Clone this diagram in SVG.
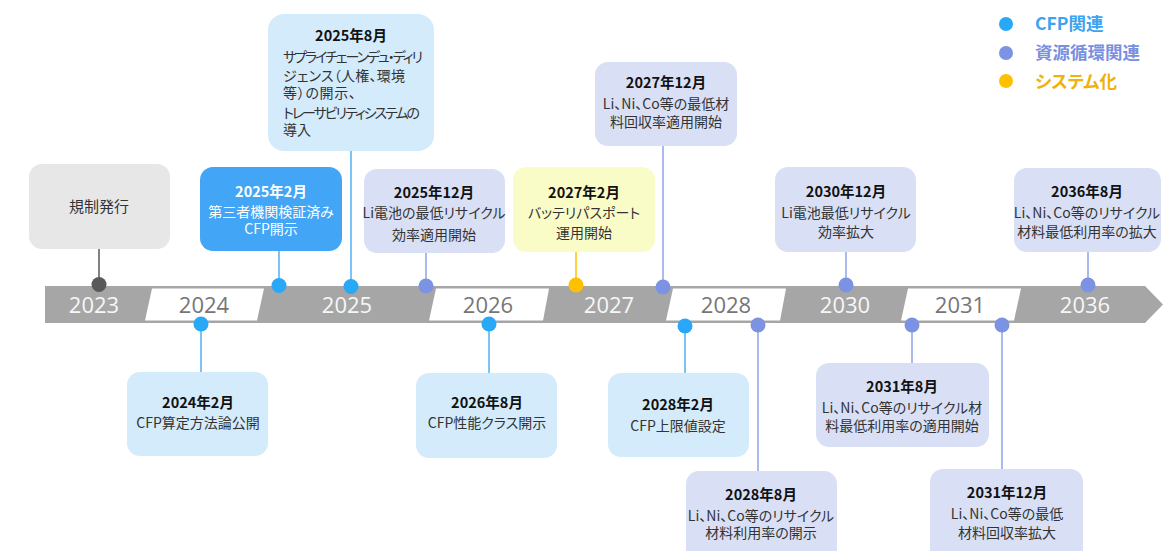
<svg xmlns="http://www.w3.org/2000/svg" width="1173" height="551" viewBox="0 0 1173 551">
<style>
text{font-family:"Noto Sans CJK JP","Noto Sans",sans-serif;font-feature-settings:"palt";}
.t{font-size:14.5px;font-weight:bold;fill:#111;text-anchor:middle;}
.b{font-size:14px;fill:#333;text-anchor:middle;}
.bl{font-size:14px;fill:#333;}
.yr{font-family:"Open Sans","Noto Sans",sans-serif;font-size:22px;text-anchor:middle;}
.yw{fill:#f7f7f7;}
.yg{fill:#767676;}
.cfp{fill:#d4ebfb;}
.res{fill:#d9e0f6;}
.ln{stroke-width:1.5;fill:none;}
.lb{stroke:#4fb0f5;}
.lp{stroke:#8fa3e6;}
.dc{fill:#29a8f7;}
.dp{fill:#7b93e2;}
.dy{fill:#ffc000;}
.lg{font-size:17.5px;font-weight:bold;}
</style>
<!-- timeline bar -->
<g id="timeline">
<polygon points="45,286 1145,286 1163,304.5 1145,323 45,323" fill="#a6a6a6"/>
<polygon points="152,288.5 264,288.5 257,320.5 145,320.5" fill="#fff"/>
<polygon points="436,288.5 549,288.5 543,320.5 429,320.5" fill="#fff"/>
<polygon points="673,288.5 786,288.5 780,320.5 666,320.5" fill="#fff"/>
<polygon points="908,288.5 1021,288.5 1014,320.5 901,320.5" fill="#fff"/>
<text class="yr yw" x="94" y="313">2023</text>
<text class="yr yg" x="204" y="313">2024</text>
<text class="yr yw" x="347" y="313">2025</text>
<text class="yr yg" x="488" y="313">2026</text>
<text class="yr yw" x="609" y="313">2027</text>
<text class="yr yg" x="726" y="313">2028</text>
<text class="yr yw" x="845" y="313">2030</text>
<text class="yr yg" x="960" y="313">2031</text>
<text class="yr yw" x="1085" y="313">2036</text>
</g>
<!-- connectors -->
<g id="connectors">
<line class="ln" stroke="#595959" x1="99" y1="249" x2="99" y2="285"/>
<line class="ln lb" x1="279" y1="250" x2="279" y2="286"/>
<line class="ln lb" x1="351" y1="151" x2="351" y2="287"/>
<line class="ln lp" x1="426" y1="253" x2="426" y2="286"/>
<line class="ln" stroke="#ffc000" x1="576" y1="252" x2="576" y2="285"/>
<line class="ln lp" x1="663" y1="146" x2="663" y2="287"/>
<line class="ln lp" x1="846" y1="252" x2="846" y2="285"/>
<line class="ln lp" x1="1088" y1="252" x2="1088" y2="285"/>
<line class="ln lb" x1="201" y1="324" x2="201" y2="372"/>
<line class="ln lb" x1="489" y1="324" x2="489" y2="373"/>
<line class="ln lb" x1="685" y1="326" x2="685" y2="373"/>
<line class="ln lp" x1="758" y1="325" x2="758" y2="471"/>
<line class="ln lp" x1="912" y1="325" x2="912" y2="363"/>
<line class="ln lp" x1="1002" y1="325" x2="1002" y2="469"/>
<circle cx="99" cy="284.5" r="7.5" fill="#595959"/>
<circle class="dc" cx="279" cy="285.5" r="7.5"/>
<circle class="dc" cx="351" cy="286.5" r="7.5"/>
<circle class="dp" cx="426" cy="286" r="7.5"/>
<circle class="dy" cx="576" cy="285" r="7.5"/>
<circle class="dp" cx="663" cy="287" r="7.5"/>
<circle class="dp" cx="846" cy="285" r="7.5"/>
<circle class="dp" cx="1088" cy="285" r="7.5"/>
<circle class="dc" cx="201" cy="324" r="7.5"/>
<circle class="dc" cx="489" cy="324" r="7.5"/>
<circle class="dc" cx="685" cy="326" r="7.5"/>
<circle class="dp" cx="758" cy="325" r="7.5"/>
<circle class="dp" cx="912" cy="325" r="7.5"/>
<circle class="dp" cx="1002" cy="325" r="7.5"/>
</g>
<!-- nodes -->
<g id="n-2023">
<rect x="29" y="164" width="141" height="85" rx="13" fill="#e7e7e7"/>
<text class="b" x="99" y="212" style="font-size:15px">規制発行</text>
</g>
<g id="n-2025-02">
<rect x="200" y="167" width="142" height="84" rx="13" fill="#42a5f5"/>
<text class="t" x="271" y="197" style="fill:#fff">2025年2月</text>
<text class="b" x="271" y="217" style="fill:#fff">第三者機関検証済み</text>
<text class="b" x="271" y="234" style="fill:#fff">CFP開示</text>
</g>
<g id="n-2025-08">
<rect x="268" y="14" width="166" height="137" rx="16" class="cfp"/>
<text class="t" x="351" y="41">2025年8月</text>
<text class="bl" x="283" y="62" textLength="140">サプライチェーンデュ・ディリ</text>
<text class="bl" x="283" y="81" textLength="122">ジェンス（人権、環境</text>
<text class="bl" x="283" y="98" textLength="73">等）の開示、</text>
<text class="bl" x="283" y="118" textLength="137">トレーサビリティシステムの</text>
<text class="bl" x="283" y="135">導入</text>
</g>
<g id="n-2025-12">
<rect x="364" y="169" width="141" height="84" rx="13" class="res"/>
<text class="t" x="434" y="198">2025年12月</text>
<text class="b" x="434" y="218">Li電池の最低リサイクル</text>
<text class="b" x="434" y="240">効率適用開始</text>
</g>
<g id="n-2027-02">
<rect x="513" y="167" width="142" height="85" rx="13" fill="#fafcc8"/>
<text class="t" x="584" y="198">2027年2月</text>
<text class="b" x="584" y="218">バッテリパスポート</text>
<text class="b" x="584" y="238">運用開始</text>
</g>
<g id="n-2027-12">
<rect x="595" y="62" width="142" height="84" rx="13" class="res"/>
<text class="t" x="666" y="88">2027年12月</text>
<text class="b" x="666" y="109">Li、Ni、Co等の最低材</text>
<text class="b" x="666" y="127">料回収率適用開始</text>
</g>
<g id="n-2030-12">
<rect x="775" y="167" width="141" height="85" rx="13" class="res"/>
<text class="t" x="846" y="197">2030年12月</text>
<text class="b" x="846" y="218">Li電池最低リサイクル</text>
<text class="b" x="846" y="237">効率拡大</text>
</g>
<g id="n-2036-08">
<rect x="1014" y="168" width="147" height="84" rx="13" class="res"/>
<text class="t" x="1087" y="197">2036年8月</text>
<text class="b" x="1087" y="218">Li、Ni、Co等のリサイクル</text>
<text class="b" x="1087" y="237">材料最低利用率の拡大</text>
</g>
<g id="n-2024-02">
<rect x="127" y="372" width="141" height="84" rx="13" class="cfp"/>
<text class="t" x="198" y="408">2024年2月</text>
<text class="b" x="198" y="428">CFP算定方法論公開</text>
</g>
<g id="n-2026-08">
<rect x="416" y="373" width="141" height="85" rx="13" class="cfp"/>
<text class="t" x="487" y="408">2026年8月</text>
<text class="b" x="487" y="428">CFP性能クラス開示</text>
</g>
<g id="n-2028-02">
<rect x="608" y="373" width="141" height="84" rx="13" class="cfp"/>
<text class="t" x="678" y="410">2028年2月</text>
<text class="b" x="678" y="431">CFP上限値設定</text>
</g>
<g id="n-2028-08">
<rect x="686" y="471" width="151" height="95" rx="13" class="res"/>
<text class="t" x="761" y="500">2028年8月</text>
<text class="b" x="761" y="521">Li、Ni、Co等のリサイクル</text>
<text class="b" x="761" y="538">材料利用率の開示</text>
</g>
<g id="n-2031-08">
<rect x="816" y="363" width="173" height="84" rx="13" class="res"/>
<text class="t" x="902" y="392">2031年8月</text>
<text class="b" x="902" y="413">Li、Ni、Co等のリサイクル材</text>
<text class="b" x="902" y="431">料最低利用率の適用開始</text>
</g>
<g id="n-2031-12">
<rect x="930" y="469" width="153" height="95" rx="13" class="res"/>
<text class="t" x="1007" y="498">2031年12月</text>
<text class="b" x="1007" y="519">Li、Ni、Co等の最低</text>
<text class="b" x="1007" y="538">材料回収率拡大</text>
</g>
<!-- legend -->
<g id="legend">
<circle class="dc" cx="1006" cy="24" r="7"/>
<circle class="dp" cx="1006" cy="53" r="7"/>
<circle class="dy" cx="1006" cy="81" r="7"/>
<text class="lg" x="1035" y="30" fill="#3ba3f0">CFP関連</text>
<text class="lg" x="1035" y="59" fill="#7b8fe0">資源循環関連</text>
<text class="lg" x="1035" y="88" fill="#eeb20a">システム化</text>
</g>
</svg>
